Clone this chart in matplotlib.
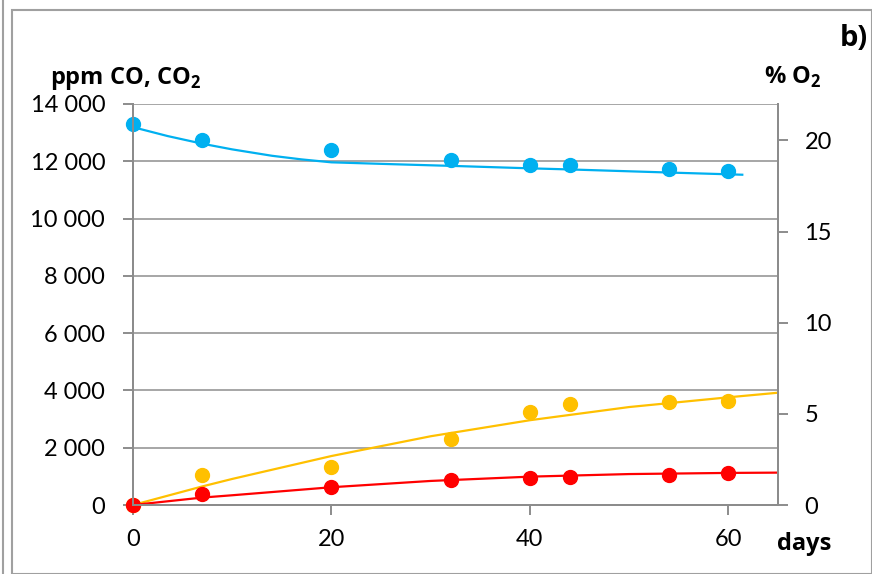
import matplotlib.pyplot as plt
from matplotlib.patches import Rectangle
from matplotlib.ticker import FuncFormatter

plt.rcParams['font.family'] = ['Lato', 'DejaVu Sans']
plt.rcParams['mathtext.fontset'] = 'custom'
plt.rcParams['mathtext.rm'] = 'Open Sans'
plt.rcParams['mathtext.bf'] = 'Open Sans:bold'

# measured points
days = [0, 7, 20, 32, 40, 44, 54, 60]
o2 = [20.9, 20.0, 19.45, 18.94, 18.63, 18.63, 18.45, 18.32]  # %
co2 = [0, 1050, 1320, 2300, 3240, 3510, 3590, 3640]  # ppm
co = [0, 385, 640, 870, 930, 990, 1060, 1130]  # ppm

# trend lines
o2_trend_days = [0, 3.5, 7, 10, 14, 17, 20, 26, 33, 40, 44, 54, 61.4]
o2_trend = [20.73, 20.24, 19.82, 19.51, 19.16, 18.96, 18.8, 18.7, 18.59, 18.47, 18.41, 18.24, 18.12]
co2_trend_days = [0, 7, 10, 20, 30, 40, 50, 60, 65]
co2_trend = [0, 650, 910, 1710, 2400, 2960, 3420, 3760, 3920]
co_trend_days = [0, 7, 10, 20, 30, 40, 50, 60, 65]
co_trend = [0, 260, 340, 620, 840, 990, 1080, 1120, 1130]

BLUE = '#00B0F0'
YELLOW = '#FFC000'
RED = '#FF0000'
GRAY = '#8C8C8C'
BOLD = dict(family=['Open Sans', 'DejaVu Sans'], fontweight='bold')

fig = plt.figure(figsize=(8.72, 5.74), dpi=100)
ax = fig.add_axes([133 / 872, 69 / 574, 645 / 872, 401 / 574])
ax2 = ax.twinx()

ax.plot(co2_trend_days, co2_trend, color=YELLOW, lw=1.6, zorder=3)
ax.plot(co_trend_days, co_trend, color=RED, lw=1.6, zorder=3)
ax.plot(days, co2, 'o', color=YELLOW, ms=10, zorder=4, clip_on=False)
ax.plot(days, co, 'o', color=RED, ms=10, zorder=4, clip_on=False)
ax2.plot(o2_trend_days, o2_trend, color=BLUE, lw=1.6)
ax2.plot(days, o2, 'o', color=BLUE, ms=10, clip_on=False)

ax.set_xlim(0, 65)
ax.set_ylim(0, 14000)
ax2.set_ylim(0, 22)
ax.set_xticks([0, 20, 40, 60])
ax.set_yticks(range(0, 14001, 2000))
ax2.set_yticks(range(0, 21, 5))
ax.yaxis.set_major_formatter(FuncFormatter(lambda v, p: f'{int(v):,}'.replace(',', ' ')))

ax.grid(axis='y', color='#A6A6A6', lw=1.4)
ax.set_axisbelow(True)
for a in (ax, ax2):
    for s in a.spines.values():
        s.set_color(GRAY)
        s.set_linewidth(1.4)
    a.spines['top'].set_visible(False)
    a.tick_params(colors=GRAY, labelcolor='black', labelsize=17, width=1.4, length=7)
ax.tick_params(axis='y', pad=13)
ax.tick_params(axis='x', pad=10)
ax2.tick_params(axis='y', pad=12)

fig.text(50 / 872, 1 - 84 / 574, r'ppm CO, CO$_{\mathbf{2}}$', fontsize=17, **BOLD)
fig.text(764 / 872, 1 - 84 / 574, r'% O$_{\mathbf{2}}$', fontsize=17, **BOLD)
fig.text(868 / 872, 1 - 46 / 574, 'b)', fontsize=21, ha='right', **BOLD)
fig.text(804 / 872, 1 - 550 / 574, 'days', fontsize=17, ha='center', **BOLD)

# outer frame
fig.patches.append(Rectangle((12 / 872, 0), 860 / 872, 1 - 10 / 574, transform=fig.transFigure,
                             fill=False, edgecolor='#A0A0A0', lw=1.5))
fig.add_artist(plt.Line2D([3 / 872, 3 / 872], [0, 1], transform=fig.transFigure, color='#A0A0A0', lw=1.5))

fig.savefig('out.png', dpi=100)
